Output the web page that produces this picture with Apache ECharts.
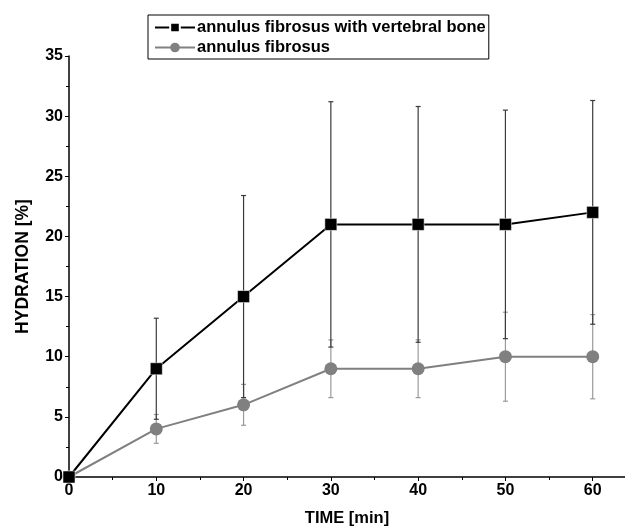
<!DOCTYPE html>
<html>
<head>
<meta charset="utf-8">
<script src="https://cdn.jsdelivr.net/npm/echarts@6/dist/echarts.min.js"></script>
<style>html,body{margin:0;padding:0;background:#fff}#c{width:625px;height:528px}</style>
</head>
<body>
<div id="c"></div>
<script>
const times = [0, 10, 20, 30, 40, 50, 60];
const boneName = 'annulus fibrosus with vertebral bone';
const afName = 'annulus fibrosus';
const boneMean = [0, 9, 15, 21, 21, 21, 22];
const boneErr = [0, 4.2, 8.4, 10.2, 9.8, 9.5, 9.3];
const afMean = [0, 4, 6, 9, 9, 10, 10];
const afErr = [0, 1.2, 1.7, 2.4, 2.4, 3.7, 3.5];
const yTicks = [0, 5, 10, 15, 20, 25, 30, 35];
const xTicks = [0, 10, 20, 30, 40, 50, 60];

const FONT = 'Liberation Sans, Arial, sans-serif';

function errData(mean, err) {
  return times.map((t, i) => [t, mean[i] - err[i], mean[i] + err[i]]).filter((d, i) => err[i] > 0);
}
function errSeries(mean, err, color, z) {
  return {
    type: 'custom', silent: true, z: z,
    data: errData(mean, err),
    renderItem: function (params, api) {
      const x = api.value(0);
      const lo = api.coord([x, api.value(1)]);
      const hi = api.coord([x, api.value(2)]);
      const hw = 2.5;
      const st = { stroke: color, lineWidth: 1.2 };
      return {
        type: 'group',
        children: [
          { type: 'line', shape: { x1: lo[0], y1: lo[1], x2: hi[0], y2: hi[1] }, style: st },
          { type: 'line', shape: { x1: lo[0] - hw, y1: lo[1], x2: lo[0] + hw, y2: lo[1] }, style: st },
          { type: 'line', shape: { x1: hi[0] - hw, y1: hi[1], x2: hi[0] + hw, y2: hi[1] }, style: st }
        ]
      };
    }
  };
}

const chart = echarts.init(document.getElementById('c'), null, { renderer: 'canvas' });
chart.setOption({
  animation: false,
  backgroundColor: '#fff',
  textStyle: { fontFamily: FONT },
  grid: { left: 69, top: 56, right: 0, bottom: 51, containLabel: false, outerBoundsMode: 'none' },
  legend: {
    data: [boneName, afName],
    orient: 'vertical',
    left: 148, top: 15,
    padding: [4, 3, 3, 6],
    itemGap: 3,
    itemWidth: 40, itemHeight: 12,
    borderColor: '#000', borderWidth: 1,
    textStyle: { fontFamily: FONT, fontWeight: 'bold', fontSize: 16.5, lineHeight: 17, color: '#000', padding: [0, 0, 0, -3] }
  },
  xAxis: {
    type: 'value', min: 0, max: 63.7, interval: 10,
    name: 'TIME [min]', nameLocation: 'middle', nameGap: 33,
    nameTextStyle: { fontFamily: FONT, fontWeight: 'bold', fontSize: 16.5, color: '#000' },
    axisLine: { lineStyle: { color: '#000', width: 1.5 } },
    axisTick: { show: true, inside: false, length: 4, lineStyle: { color: '#000' } },
    minorTick: { show: true, splitNumber: 2, length: 3, lineStyle: { color: '#000' } },
    splitLine: { show: false },
    axisLabel: {
      fontFamily: FONT, fontWeight: 'bold', fontSize: 16, color: '#000', margin: 6,
      formatter: v => xTicks.includes(v) ? String(v) : ''
    }
  },
  yAxis: {
    type: 'value', min: 0, max: 35, interval: 5,
    name: 'HYDRATION [%]', nameLocation: 'middle', nameGap: 37, nameRotate: 90,
    nameTextStyle: { fontFamily: FONT, fontWeight: 'bold', fontSize: 17.5, color: '#000' },
    axisLine: { show: true, lineStyle: { color: '#000', width: 1.5 } },
    axisTick: { show: true, inside: false, length: 4, lineStyle: { color: '#000' } },
    minorTick: { show: true, splitNumber: 2, length: 3, lineStyle: { color: '#000' } },
    splitLine: { show: false },
    axisLabel: {
      fontFamily: FONT, fontWeight: 'bold', fontSize: 16, color: '#000', margin: 6,
      formatter: v => yTicks.includes(v) ? String(v) : ''
    }
  },
  series: [
    errSeries(afMean, afErr, '#9a9a9a', 2),
    errSeries(boneMean, boneErr, '#3a3a3a', 3),
    {
      name: afName, type: 'line', z: 4,
      data: times.map((t, i) => [t, afMean[i]]),
      symbol: 'circle', symbolSize: 13,
      lineStyle: { color: '#808080', width: 2 },
      itemStyle: { color: '#808080' }
    },
    {
      name: boneName, type: 'line', z: 5,
      data: times.map((t, i) => [t, boneMean[i]]),
      symbol: 'rect', symbolSize: 12,
      lineStyle: { color: '#000', width: 2 },
      itemStyle: { color: '#000', borderColor: '#fff', borderWidth: 0.5 }
    }
  ]
});
</script>
</body>
</html>
